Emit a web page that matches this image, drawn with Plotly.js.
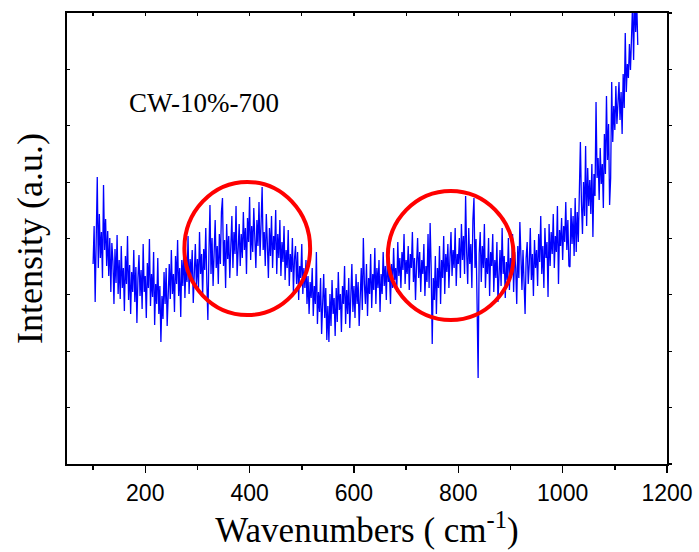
<!DOCTYPE html>
<html>
<head>
<meta charset="utf-8">
<script src="https://cdn.plot.ly/plotly-3.0.1.min.js"></script>
<style>html,body{margin:0;padding:0;background:#fff;}#chart{width:699px;height:552px;}</style>
</head>
<body>
<div id="chart"></div>
<script>
// Raman spectrum sampled every 2 cm-1 from 100 cm-1
const waveStart = 100;
const waveStep = 2;
const intensity = [
200,238,162,215,287,196,250,206,232,186,
279,214,245,198,233,188,226,172,221,203,
160,215,181,229,170,204,165,218,176,196,
153,208,180,228,164,199,150,192,172,214,
162,197,141,186,209,168,194,155,220,172,
188,146,201,176,225,158,190,167,212,139,
180,160,206,150,178,122,168,145,192,160,
196,138,176,200,165,214,170,190,152,208,
180,224,168,196,147,204,178,218,166,199,
182,228,170,205,188,214,161,198,220,178,
205,176,232,190,210,168,215,194,236,182,
144,210,259,190,226,178,212,244,196,218,
180,230,200,252,266,198,224,176,240,205,
228,186,218,248,196,232,210,258,188,222,
240,198,230,206,252,214,236,190,246,222,
267,204,238,212,256,226,196,244,218,262,
208,240,277,214,232,198,250,220,186,236,
208,248,196,228,214,254,190,230,206,244,
188,222,202,238,184,214,196,234,178,210,
192,226,172,205,218,180,212,164,198,186,
220,170,196,176,204,160,188,150,182,166,
196,148,178,160,212,140,172,152,186,130,
168,190,146,176,124,158,122,170,138,184,
150,166,128,176,142,192,154,170,132,178,
160,198,140,174,150,186,136,168,200,152,
178,146,190,160,182,138,172,196,154,226,
180,160,200,148,186,170,210,156,190,174,
216,160,196,176,204,152,190,170,212,178,
198,164,208,182,192,160,200,176,216,184,
196,172,222,188,206,176,212,194,230,180,
204,190,218,174,210,196,232,182,206,164,
200,226,186,212,172,204,190,220,168,198,
182,230,176,241,196,120,186,164,208,150,
196,176,218,160,204,186,228,170,210,192,
220,176,206,232,188,214,196,236,178,210,
200,226,186,240,204,228,190,268,212,180,
236,200,220,176,244,266,196,225,160,86,
210,232,182,218,196,240,176,206,190,226,
168,212,198,230,172,204,186,222,162,196,
214,178,236,190,208,166,202,184,226,174,
206,190,230,172,212,196,160,218,186,242,
198,174,214,190,150,206,222,180,200,236,
184,210,168,224,196,214,178,230,202,248,
190,218,176,236,206,222,167,240,198,232,
210,250,196,228,212,258,180,234,218,246,
204,238,222,262,214,244,198,197,256,220,
248,208,266,212,252,222,276,322,262,230,
282,248,318,238,296,258,284,250,300,227,
290,268,362,286,306,264,316,280,300,256,
330,290,368,304,340,259,286,382,322,358,
334,378,340,366,382,344,372,330,390,356,
431,372,400,386,420,394,438,460,404,470,
432,462,419
];
const waveNumbers = intensity.map((_, i) => waveStart + i * waveStep);

const xTickVals = [200, 400, 600, 800, 1000, 1200];
const xTickText = ['200', '400', '600', '800', '1000', '1200'];
const sampleName = 'CW-10%-700';

const serif = '"Liberation Serif", "Times New Roman", Times, serif';
const sans = '"Liberation Sans", Arial, Helvetica, sans-serif';

const traces = [
  {
    x: waveNumbers, y: intensity, type: 'scatter', mode: 'lines',
    line: {color: '#0000FF', width: 1.3}, hoverinfo: 'skip', showlegend: false
  },
  {
    x: [null], y: [null], xaxis: 'x2', yaxis: 'y2', type: 'scatter', mode: 'lines',
    showlegend: false, hoverinfo: 'skip'
  }
];

const layout = {
  width: 699, height: 552,
  margin: {l: 67, r: 32, t: 13, b: 88},
  paper_bgcolor: '#fff', plot_bgcolor: '#fff',
  showlegend: false,
  xaxis: {
    range: [50, 1200], tickmode: 'array', tickvals: xTickVals, ticktext: xTickText,
    ticks: 'outside', ticklen: 7, tickwidth: 1.5, tickcolor: '#000',
    minor: {tickmode: 'array', tickvals: [100, 300, 500, 700, 900, 1100], ticks: 'outside', ticklen: 4, tickwidth: 1.5, tickcolor: '#000'},
    showline: true, linewidth: 2, linecolor: '#000', showgrid: false, zeroline: false,
    tickfont: {family: sans, size: 23, color: '#000'},
    title: {text: 'Wavenumbers ( cm<sup>-1</sup>)', font: {family: serif, size: 35, color: '#000'}, standoff: 8},
    fixedrange: true
  },
  xaxis2: {
    overlaying: 'x', side: 'top', anchor: 'y', range: [50, 1200],
    dtick: 100, tick0: 0, ticks: 'inside', ticklen: 3, tickwidth: 1.2, tickcolor: '#000',
    showticklabels: false, showline: true, linewidth: 2, linecolor: '#000', showgrid: false, zeroline: false
  },
  yaxis: {
    range: [0, 451], dtick: 56.375, tick0: 0, ticks: 'inside', ticklen: 3, tickwidth: 1.2, tickcolor: '#000',
    showticklabels: false, showline: true, linewidth: 2, linecolor: '#000', showgrid: false, zeroline: false,
    title: {text: 'Intensity (a.u.)', font: {family: serif, size: 36, color: '#000'}, standoff: 11},
    fixedrange: true
  },
  yaxis2: {
    overlaying: 'y', side: 'right', anchor: 'x', range: [0, 451], dtick: 56.375, tick0: 0,
    ticks: 'outside', ticklen: 3, tickwidth: 1.2, tickcolor: '#000',
    showticklabels: false, showline: true, linewidth: 2, linecolor: '#000', showgrid: false, zeroline: false
  },
  annotations: [{
    text: sampleName, xref: 'paper', yref: 'paper', x: 0.228, y: 0.8, xanchor: 'center', yanchor: 'middle',
    showarrow: false, font: {family: serif, size: 27, color: '#000'}
  }],
  shapes: [
    {type: 'circle', xref: 'x', yref: 'y', x0: 275, x1: 516, y0: 149, y1: 282, line: {color: '#FF0000', width: 4}},
    {type: 'circle', xref: 'x', yref: 'y', x0: 665, x1: 906, y0: 144, y1: 273, line: {color: '#FF0000', width: 4}}
  ]
};

Plotly.newPlot('chart', traces, layout, {staticPlot: true, displayModeBar: false});
</script>
</body>
</html>
